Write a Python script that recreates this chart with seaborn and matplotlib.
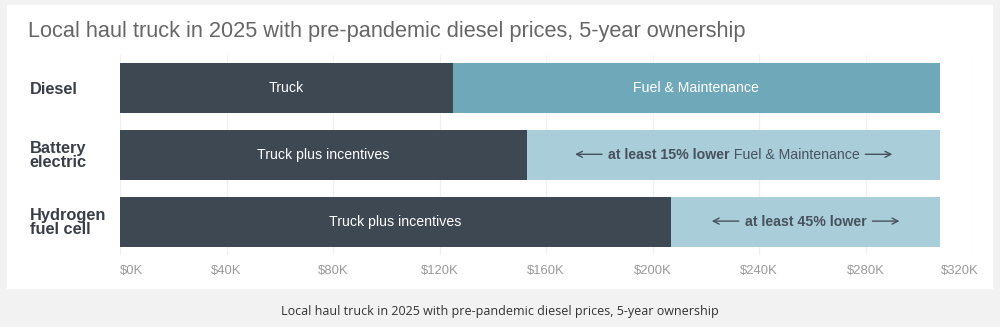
import matplotlib
matplotlib.use("Agg")
import matplotlib.pyplot as plt
from matplotlib.patches import Rectangle
from matplotlib.transforms import ScaledTranslation
import seaborn as sns
import pandas as pd

# Five-year cost of ownership, US dollars
categories = ["Diesel", "Battery\nelectric", "Hydrogen\nfuel cell"]
truck_cost = [125000, 153000, 207000]
total_cost = [308000, 308000, 308000]
truck_labels = ["Truck", "Truck plus incentives", "Truck plus incentives"]
x_ticks = [0, 40000, 80000, 120000, 160000, 200000, 240000, 280000, 320000]
x_tick_labels = ["$0K", "$40K", "$80K", "$120K", "$160K", "$200K", "$240K", "$280K", "$320K"]
title = "Local haul truck in 2025 with pre-pandemic diesel prices, 5-year ownership"

DARK = "#3e4852"
TEAL = "#6fa8b8"
LIGHT = "#a9cdd9"
rest_colors = [TEAL, LIGHT, LIGHT]

sns.set_theme(style="white")
plt.rcParams["font.family"] = ["Liberation Sans", "DejaVu Sans"]

df = pd.DataFrame({"category": categories, "truck": truck_cost, "total": total_cost})

fig = plt.figure(figsize=(10, 3.27), dpi=100, facecolor="#f2f2f2")
# white card behind the chart
fig.patches.append(Rectangle((0.007, 1 - 289 / 327), 0.986, (289 - 5) / 327,
                             transform=fig.transFigure, facecolor="white",
                             edgecolor="none", zorder=-10))

ax = fig.add_axes([0.12, 1 - 255 / 327, 0.852, (255 - 54.6) / 327])
ax.set_zorder(5)
ax.set_facecolor("none")

sns.barplot(data=df, x="total", y="category", hue="category", palette=rest_colors,
            width=0.75, legend=False, ax=ax, zorder=2, saturation=1, linewidth=0)
sns.barplot(data=df, x="truck", y="category", color=DARK,
            width=0.75, ax=ax, zorder=3, saturation=1, linewidth=0)

ax.set_xlim(0, 320000)
ax.set_ylim(2.5, -0.5)
ax.set_xticks(x_ticks)
ax.set_xticklabels(x_tick_labels)
ax.set_xlabel("")
ax.set_ylabel("")
for s in ax.spines.values():
    s.set_visible(False)
ax.grid(axis="x", color="#f0f0f0", linewidth=1, zorder=0)
ax.set_axisbelow(True)
ax.tick_params(axis="x", length=0, pad=7, labelsize=9.4, labelcolor="#9a9a9a")
xl = ax.get_xticklabels()
xl[0].set_ha("left")
xl[-1].set_ha("right")
xl[-1].set_transform(xl[-1].get_transform() + ScaledTranslation(7 / 100, 0, fig.dpi_scale_trans))

ax.set_yticks(range(len(categories)))
ax.set_yticklabels(categories)
ax.tick_params(axis="y", length=0, pad=65)
for lab in ax.get_yticklabels():
    lab.set_ha("left")
    lab.set_fontweight("bold")
    lab.set_fontsize(11.8)
    lab.set_color("#3a3f47")
    lab.set_linespacing(0.88)

# labels inside the truck segments
for i, (t, lab) in enumerate(zip(truck_cost, truck_labels)):
    ax.text(t / 2, i, lab, ha="center", va="center", color="white",
            fontsize=10.2, zorder=5)
ax.text((truck_cost[0] + total_cost[0]) / 2, 0, "Fuel & Maintenance",
        ha="center", va="center", color="white", fontsize=10.2, zorder=5)

# mixed-weight notes with long arrows inside the light segments
fig.canvas.draw()
renderer = fig.canvas.get_renderer()
note_color = "#46525d"
ARROW_W = 27   # pixels
GAP = 6
notes = {
    1: [("at least 15% lower", "bold"), (" Fuel & Maintenance", "normal")],
    2: [("at least 45% lower", "bold")],
}
inv = ax.transData.inverted()
for i, pieces in notes.items():
    center = (truck_cost[i] + total_cost[i]) / 2
    cx, cy = ax.transData.transform((center, i))
    texts, widths = [], []
    for s, w in pieces:
        t = ax.text(0, i, s, ha="left", va="center", fontsize=10.2,
                    fontweight=w, color=note_color, zorder=5)
        texts.append(t)
        widths.append(t.get_window_extent(renderer=renderer).width)
    total_w = sum(widths) + 2 * (ARROW_W + GAP)
    x0 = cx - total_w / 2
    # left arrow
    ax.annotate("", xy=tuple(inv.transform((x0, cy + 0.5))),
                xytext=tuple(inv.transform((x0 + ARROW_W, cy + 0.5))),
                arrowprops=dict(arrowstyle="->,head_length=0.35,head_width=0.18",
                                color=note_color, lw=1.0, shrinkA=0, shrinkB=0),
                zorder=5)
    x0 += ARROW_W + GAP
    for t, w in zip(texts, widths):
        t.set_x(inv.transform((x0, cy))[0])
        x0 += w
    x0 += GAP
    ax.annotate("", xy=tuple(inv.transform((x0 + ARROW_W, cy + 0.5))),
                xytext=tuple(inv.transform((x0, cy + 0.5))),
                arrowprops=dict(arrowstyle="->,head_length=0.35,head_width=0.18",
                                color=note_color, lw=1.0, shrinkA=0, shrinkB=0),
                zorder=5)

fig.text(0.028, 1 - 32 / 327, title, ha="left", va="center", fontsize=15.7,
         color="#666666")
fig.text(0.5, 1 - 312 / 327, title, ha="center", va="center", fontsize=9,
         color="#333333", family=["Open Sans", "DejaVu Sans"])

fig.savefig("out.png", dpi=100, facecolor=fig.get_facecolor())
